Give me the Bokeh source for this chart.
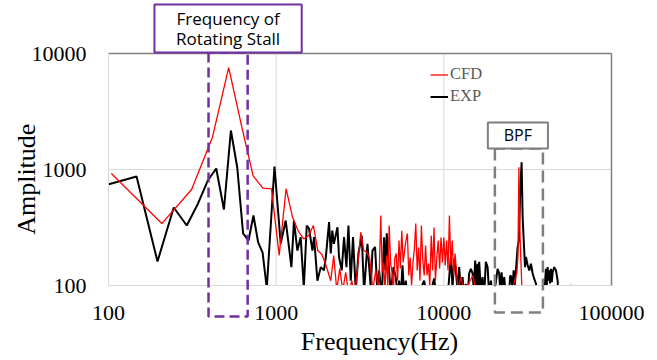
from bokeh.plotting import figure
from bokeh.models import (ColumnDataSource, Range1d, FixedTicker, NumeralTickFormatter, LogAxis,
                          Legend, LegendItem, PolyAnnotation, BoxAnnotation, Label)
from bokeh.embed import file_html
from bokeh.resources import INLINE

# ---- data ----
cfd_freq = [104, 208, 313, 417, 521, 625, 729, 833, 938, 1042, 1146, 1250, 1354, 1458, 1563, 1667, 1771, 1875, 1979,
            2116, 2205, 2298, 2394, 2495, 2600, 2709, 2823, 2942, 3066, 3195, 3330, 3470, 3616, 3768, 3926, 4091,
            4206, 4288, 4371, 4456, 4542, 4631, 4721, 4812, 4906, 5001, 5098, 5197, 5298, 5401, 5506, 5613, 5722,
            5833, 5946, 6062, 6180, 6300, 6422, 6547, 6674, 6804, 6936, 7071, 7208, 7348, 7491, 7637, 7785, 7936,
            8091, 8248, 8408, 8572, 8738, 8908, 9081, 9258, 9438, 9621, 9808, 9999, 10193, 10391, 10593, 10799,
            11009, 11223, 11441, 11663, 11890,
            12122, 12632, 13346, 14101, 14899, 15740, 16630,
            17571, 18564, 19614, 20723, 21895, 23133, 24441, 25823, 27283, 27680, 28040, 28420, 29240, 30880, 37940,
            46640, 53510, 57320, 61390]
cfd_amp = [925, 342, 673, 1900, 7570, 2300, 880, 690, 680, 182, 683, 390, 295, 252, 270, 329, 200, 185, 150,
           110, 181, 91, 140, 91, 130, 82, 110, 82, 149, 288, 200, 195, 170, 91, 135, 91,
           401, 129, 158, 91, 181, 100, 329, 158, 129, 91, 171, 189, 110, 244, 140, 297, 158,
           200, 244, 281, 122, 174, 100, 158, 208, 342, 135, 213, 110, 329, 164, 122, 221, 122,
           155, 100, 269, 135, 316, 110, 174, 244, 140, 259, 158, 259, 149, 244, 135, 401,
           149, 244, 122, 189, 135,
           91, 118, 82, 105, 122, 82, 100,
           82, 95, 82, 91, 82, 91, 82, 96, 130, 181, 1047, 287, 91, 82, 85,
           75, 91, 101, 82]

exp_freq = [98, 147, 196, 245, 293, 342, 391, 439, 488, 537, 586, 635, 684, 732, 781, 830, 879, 977, 1064, 1140,
            1233, 1277, 1338, 1400, 1462, 1522, 1570, 1646, 1683, 1762, 1845, 1928, 1978, 2068, 2116, 2162, 2210,
            2320, 2371, 2460, 2540, 2625, 2698, 2785, 2873, 2983, 3095, 3239, 3344, 3504, 3666, 3752, 3890, 4021,
            4110, 4265, 4402, 4480, 4568, 4715, 4826, 5009, 5169, 5300, 5410, 5538, 5669, 5800, 5932, 6060, 6206,
            6450, 6648, 7000, 7300, 7628, 8000, 8400, 8750, 9100, 9500, 10046, 10500, 11010, 11270, 11520, 11793,
            12070, 12340, 12630, 12930, 13230, 13530, 13850, 14160, 14500, 14840, 15100, 15380, 15640, 15890, 16100,
            16250, 16630, 17020, 17400, 17810, 18240, 18650, 19080, 19600, 20440, 20920, 21390, 21700, 22110, 22500,
            22910, 23500, 24400, 24880, 25360, 25700, 26070, 26500, 26910, 27540, 28040, 28550, 29100, 29510, 30160,
            30500, 30880, 31600, 32320, 33070, 33860, 34610, 35430, 36200, 39500, 40640, 41100, 41600, 42050, 42540,
            43000, 43540, 44050, 44570, 45540, 46640, 47730, 48300]
exp_amp = [740, 871, 161, 470, 329, 510, 803, 1021, 452, 2168, 1040, 281, 244, 401, 235, 192, 95, 1062, 230, 363,
           144, 363, 200, 261, 95, 329, 310, 200, 261, 110, 144, 135, 176, 352, 189, 297, 229,
           318, 176, 135, 261, 144, 329, 110, 261, 90, 189, 269, 88, 229, 95, 200, 215, 85,
           135, 80, 261, 135, 282, 135, 85, 144, 118, 80, 110, 80, 149, 80, 110, 80, 100,
           75, 91, 75, 95, 110, 75, 90, 115, 75, 85, 98, 75, 176, 95, 170, 135,
           90, 144, 95, 118, 82, 103, 80, 127, 139, 127, 90, 164, 90, 154, 82,
           160, 90, 118, 82, 160, 144, 82, 110, 75, 107, 139, 127, 90, 130, 90,
           118, 75, 75, 122, 118, 90, 135, 100, 135, 214, 244, 662, 1156, 388, 200,
           144, 176, 150, 135, 154, 127, 114, 104, 75, 75, 139, 100, 144, 110, 135,
           104, 139, 107, 130, 144, 135, 110, 75]

x_ticks = [100, 1000, 10000, 100000]
y_ticks = [100, 1000, 10000]
series_names = ["CFD", "EXP"]

SERIF = "Liberation Serif"
SANS = "Open Sans"

# ---- layout: the frame fills the canvas; axes are pinned at the data box edges ----
W, H = 657, 360
BOX_L, BOX_R, BOX_T, BOX_B = 108, 611, 53, 285
X0, X1 = x_ticks[0], x_ticks[-1]
Y0, Y1 = y_ticks[0], y_ticks[-1]
dec_x = (BOX_R - BOX_L) / 3.0
dec_y = (BOX_B - BOX_T) / 2.0
x_start = X0 * 10 ** (-BOX_L / dec_x)
x_end = X0 * 10 ** ((W - BOX_L) / dec_x)
y_start = Y0 * 10 ** (-(H - BOX_B) / dec_y)
y_end = Y1 * 10 ** (BOX_T / dec_y)

p = figure(width=W, height=H, x_axis_type="log", y_axis_type="log",
           x_range=Range1d(x_start, x_end), y_range=Range1d(y_start, y_end),
           output_backend="svg", toolbar_location=None, min_border=0)
p.outline_line_color = None
p.background_fill_color = "white"
p.border_fill_color = "white"
p.grid.visible = False

for ax, ticks, loc, bnd in ((p.xaxis[0], x_ticks, Y0, (X0, X1)), (p.yaxis[0], y_ticks, X0, (Y0, Y1))):
    ax.fixed_location = loc
    ax.bounds = bnd
    ax.ticker = FixedTicker(ticks=ticks)
    ax.formatter = NumeralTickFormatter(format="0")
    ax.axis_line_color = "#d9d9d9"
    ax.major_tick_line_color = None
    ax.minor_tick_line_color = None
    ax.major_label_text_font = SERIF
    ax.major_label_text_font_size = "22px"
    ax.major_label_text_color = "black"
    ax.axis_label_text_font = SERIF
    ax.axis_label_text_font_size = "26px"
    ax.axis_label_text_font_style = "normal"
    ax.axis_label_text_color = "black"

p.xaxis.axis_label = "\u00a0\u00a0\u00a0\u00a0\u00a0\u00a0Frequency(Hz)"
p.yaxis.axis_label = "Amplitude\u00a0\u00a0\u00a0"
p.xaxis.major_label_standoff = 14
p.yaxis.major_label_standoff = 16
p.xaxis.axis_label_standoff = 4
p.yaxis.axis_label_standoff = -12

# darker top and right borders of the plot box
for side, loc, bnd in (("above", Y1, (X0, X1)), ("right", X1, (Y0, Y1))):
    b = LogAxis(fixed_location=loc, bounds=bnd, ticker=FixedTicker(ticks=[]),
                axis_line_color="#808080", axis_line_width=1.5,
                major_tick_line_color=None, minor_tick_line_color=None,
                major_label_text_font_size="0px")
    p.add_layout(b, side)

# gridlines inside the plot box only
inner_x = x_ticks[1:-1]
inner_y = y_ticks[1:-1]
p.segment(x0=inner_x, y0=[Y0] * len(inner_x), x1=inner_x, y1=[Y1] * len(inner_x),
          line_color="#d9d9d9", line_width=1, level="underlay")
p.segment(x0=[X0] * len(inner_y), y0=inner_y, x1=[X1] * len(inner_y), y1=inner_y,
          line_color="#d9d9d9", line_width=1, level="underlay")

src_cfd = ColumnDataSource(dict(f=cfd_freq, a=cfd_amp))
src_exp = ColumnDataSource(dict(f=exp_freq, a=exp_amp))
r_exp = p.line("f", "a", source=src_exp, line_color="black", line_width=2)
r_cfd = p.line("f", "a", source=src_cfd, line_color="#ff0000", line_width=1.3)

# white masks clip the spectra to the plot box
p.add_layout(BoxAnnotation(top=Y0, fill_color="white", fill_alpha=1, line_color=None, level="glyph"))
p.add_layout(BoxAnnotation(right=X0, fill_color="white", fill_alpha=1, line_color=None, level="glyph"))

legend = Legend(items=[LegendItem(label=series_names[0], renderers=[r_cfd]),
                       LegendItem(label=series_names[1], renderers=[r_exp])],
                location=(430, 254), orientation="vertical",
                background_fill_alpha=0, border_line_color=None,
                padding=0, margin=0, spacing=2, glyph_height=19, label_height=19,
                glyph_width=18, label_standoff=2,
                label_text_font=SERIF, label_text_font_size="16.5px", label_text_color="#595959")
p.add_layout(legend)

# rotating-stall annotation
p.add_layout(PolyAnnotation(xs=[395, 395, 676, 676], ys=[10200, 54, 54, 10200],
                            line_color="#7030a0", line_alpha=1, line_width=2.5, line_dash="10 5",
                            fill_alpha=0))
p.add_layout(PolyAnnotation(xs=[188, 188, 1420, 1420], ys=[26440, 10200, 10200, 26440],
                            line_color="#7030a0", line_alpha=1, line_width=2,
                            fill_color="white", fill_alpha=1))
p.add_layout(Label(x=517, y=16420, text="Frequency of\nRotating Stall", text_align="center",
                   text_baseline="middle", text_font=SANS, text_font_size="17px",
                   text_line_height=0.9, text_color="black"))

# BPF annotation
p.add_layout(PolyAnnotation(xs=[20160, 20160, 38990, 38990], ys=[1517, 58.5, 58.5, 1517],
                            line_color="#7f7f7f", line_alpha=1, line_width=2.5, line_dash="12 6",
                            fill_alpha=0))
p.add_layout(PolyAnnotation(xs=[18310, 18310, 41770, 41770], ys=[2542, 1517, 1517, 2542],
                            line_color="#7f7f7f", line_alpha=1, line_width=2,
                            fill_color="white", fill_alpha=1))
p.add_layout(Label(x=27650, y=1964, text="BPF", text_align="center",
                   text_baseline="middle", text_font=SANS, text_font_size="16px", text_color="black"))

open("out.html", "w").write(file_html(p, INLINE))
